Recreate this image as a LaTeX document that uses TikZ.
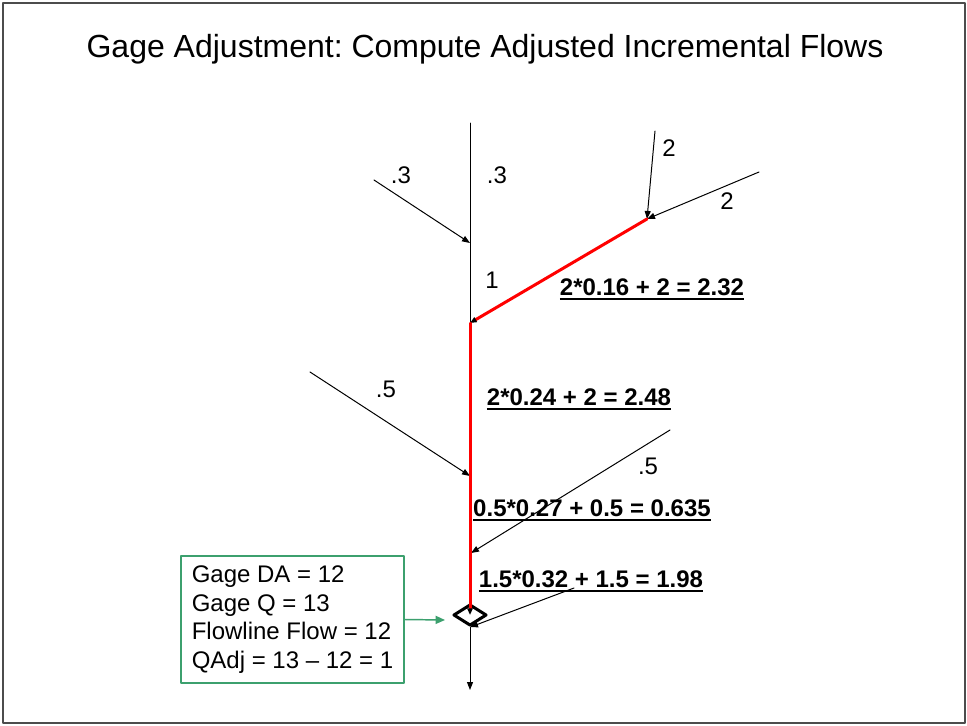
\documentclass[tikz,border=0pt]{standalone}
\usepackage{fontspec}
\setmainfont{Liberation Sans}
\usetikzlibrary{arrows.meta,shapes.geometric}
\newsavebox\sumbox
\newcommand\flowsum[1]{\sbox\sumbox{\bfseries #1}\rlap{\rule[-4pt]{\wd\sumbox}{1.6pt}}\usebox\sumbox}
\frenchspacing
\begin{document}
\begin{tikzpicture}[x=0.75pt,y=-0.75pt,line join=round,line cap=round]
	\definecolor{gagegreen}{RGB}{60,160,110}
	\definecolor{routered}{RGB}{255,0,0}
	\tikzset{
		river/.style={line width=0.75pt},
		inflow/.style={river,-{Triangle[length=6pt,width=4.5pt]}},
		routed/.style={routered,line width=2.25pt,-{Triangle[black,length=5pt,width=4pt]}},
		lbl/.style={font=\fontsize{18}{21.6}\selectfont,inner sep=0pt,anchor=base},
	}
	\useasboundingbox (0,0) rectangle (967,725);
	\draw[black!70,line width=1pt] (3,3) rectangle (965,723);
	
	\node[lbl,font=\fontsize{24}{28}\selectfont] (title) at (485,57) {Gage Adjustment: Compute Adjusted Incremental Flows};
	
	%junctions and upstream ends
	\path
	(470,123) coordinate (top)
	(470,243) coordinate (jA)
	(470,323) coordinate (jB)
	(647,219) coordinate (jC)
	(470,476) coordinate (jD)
	(471,553) coordinate (jE)
	(374,180) coordinate (t1)
	(655,131) coordinate (t2)
	(759,172) coordinate (t3)
	(310,372) coordinate (t4)
	(670,430) coordinate (t5)
	(574,588) coordinate (t6)
	(470,690) coordinate (out)
	(445,620) coordinate (gin);
	
	\node[draw,diamond,line width=2.25pt,minimum width=25pt,minimum height=16pt,inner sep=0pt] (gage) at (470,615) {};
	
	\draw[river] (top)--(jB);
	\draw[inflow] (t1)--(jA);
	\draw[inflow] (t2)--(jC);
	\draw[inflow] (t3)--(jC);
	\draw[inflow] (t4)--(jD);
	\draw[inflow] (t5)--(jE);
	\draw[inflow] (t6)--(gage.south);
	\draw[inflow] (gage.south)--(out);
	
	\draw[routed] (jC)--(jB);
	\draw[routed] (jB)--(gage.center);
	
	\node[lbl] (q1) at (401,183) {.3};
	\node[lbl] (q2) at (497,183) {.3};
	\node[lbl] (q3) at (492,288) {1};
	\node[lbl] (q4) at (669,156) {2};
	\node[lbl] (q5) at (727,209) {2};
	\node[lbl] (q6) at (386,397) {.5};
	\node[lbl] (q7) at (648,474) {.5};
	
	\node[lbl] (s1) at (652,295) {\flowsum{2*0.16 + 2 = 2.32}};
	\node[lbl] (s2) at (579,405) {\flowsum{2*0.24 + 2 = 2.48}};
	\node[lbl] (s3) at (592,516) {\flowsum{0.5*0.27 + 0.5 = 0.635}};
	\node[lbl] (s4) at (591,587) {\flowsum{1.5*0.32 + 1.5 = 1.98}};
	
	\node[draw=gagegreen,line width=1.5pt,align=left,minimum width=167pt,minimum height=95pt,inner sep=0pt,font=\fontsize{18}{21.4}\selectfont] (gbox) at (292.5,619.5)
	{Gage DA = 12\\ Gage Q = 13\\ Flowline Flow = 12\\ QAdj = 13 -- 12 = 1};
	\draw[gagegreen,line width=1.1pt,-{Triangle[length=7pt,width=6pt]}] (gbox.east)--(gin);
\end{tikzpicture}
\end{document}
